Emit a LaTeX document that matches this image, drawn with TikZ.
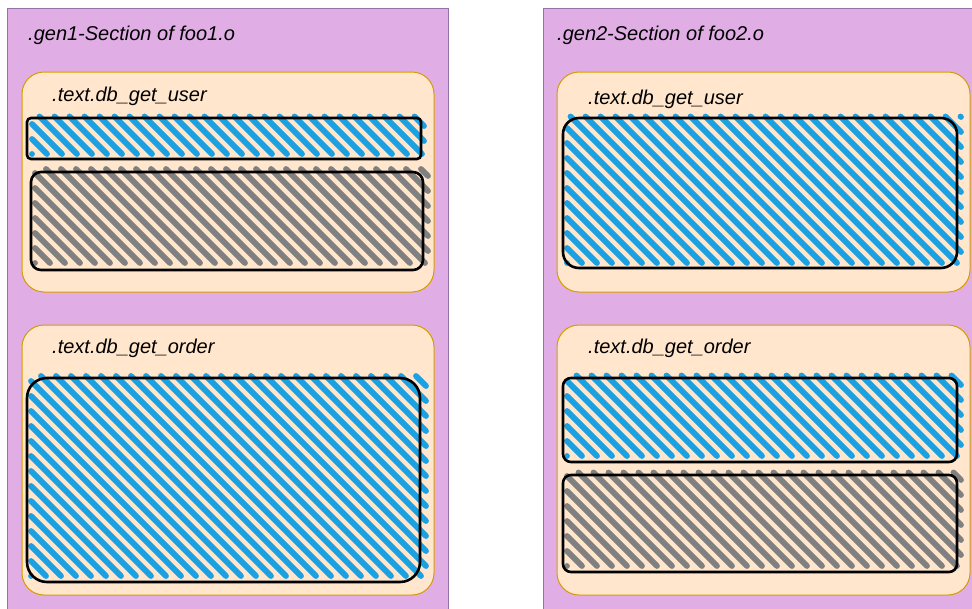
\documentclass[tikz,border=0pt]{standalone}
\usepackage{fontspec}
\setmainfont{Liberation Sans}
\usetikzlibrary{fit}

\definecolor{secfill}{RGB}{224,174,229}
\definecolor{secline}{RGB}{150,115,166}
\definecolor{funfill}{RGB}{255,230,204}
\definecolor{funline}{RGB}{215,155,0}
\definecolor{hotblue}{RGB}{27,161,226}
\definecolor{coldgrey}{RGB}{128,128,128}

% sketchy diagonal hatching inside x0,y0,x1,y1 (pixels), colour
\newcommand{\hatchbox}[5]{%
  \pgfmathsetmacro{\cfirst}{#1-#4}%
  \pgfmathsetmacro{\csecond}{#1-#4+15}%
  \pgfmathsetmacro{\clast}{#3-#2}%
  \foreach \k in {\cfirst,\csecond,...,\clast}{%
    \pgfmathsetmacro{\ya}{max(#2,#1-(\k))}%
    \pgfmathsetmacro{\yb}{min(#4,#3-(\k))}%
    \pgfmathsetmacro{\xa}{\ya+(\k)}%
    \pgfmathsetmacro{\xb}{\yb+(\k)}%
    \draw[hatchline,#5] (\xa,\ya) -- (\xb,\yb);
  }}

\begin{document}
\begin{tikzpicture}[x=1pt,y=-1pt,
 sect/.style={draw=secline,fill=secfill,line width=1pt,inner sep=0pt},
 func/.style={draw=funline,fill=funfill,line width=1pt,rounded corners=22pt,inner sep=0pt},
 part/.style={draw=black,line width=2.6pt,inner sep=0pt},
 hatchline/.style={line width=5.8pt,line cap=round},
 lbl/.style={font=\fontsize{20}{22}\selectfont\itshape,anchor=base west,inner sep=0pt}]
\path[use as bounding box,clip] (0,0) rectangle (972,608);
% sections
\node[sect,fit={(7,8) (448,625)}] (gen1) {};
\node[sect,fit={(543,8) (990,625)}] (gen2) {};
\node[lbl] (gen1t) at (28,40.5) {.gen1-Section of foo1.o};
\node[lbl] (gen2t) at (557,40.5) {.gen2-Section of foo2.o};
% functions
\node[func,fit={(22,72) (434,292)}] (user1) {};
\node[func,fit={(22,325) (434,595)}] (order1) {};
\node[func,fit={(557,72) (970,292)}] (user2) {};
\node[func,fit={(557,325) (970,595)}] (order2) {};
\node[lbl] (user1t) at (52,101) {.text.db\_get\_user};
\node[lbl] (order1t) at (52,353) {.text.db\_get\_order};
\node[lbl] (user2t) at (588,104) {.text.db\_get\_user};
\node[lbl] (order2t) at (588,353) {.text.db\_get\_order};
% left parts
\hatchbox{32}{116.5}{424}{154}{hotblue}
\node[part,rounded corners=4pt,fit={(27,118) (421,159)}] (u1a) {};
\hatchbox{35}{169}{428}{263}{coldgrey}
\node[part,rounded corners=10pt,fit={(31,172) (423,270)}] (u1b) {};
\hatchbox{31}{376}{426}{576}{hotblue}
\node[part,rounded corners=20pt,fit={(27,378) (420,582)}] (o1a) {};
% right parts
\hatchbox{567}{116.5}{961}{263}{hotblue}
\node[part,rounded corners=16pt,fit={(563,118) (957,268)}] (u2a) {};
\hatchbox{567}{375.5}{961}{456}{hotblue}
\node[part,rounded corners=8pt,fit={(563,378) (957,462)}] (o2a) {};
\hatchbox{567}{472.5}{961}{566}{coldgrey}
\node[part,rounded corners=8pt,fit={(563,475) (957,572)}] (o2b) {};
\end{tikzpicture}
\end{document}
